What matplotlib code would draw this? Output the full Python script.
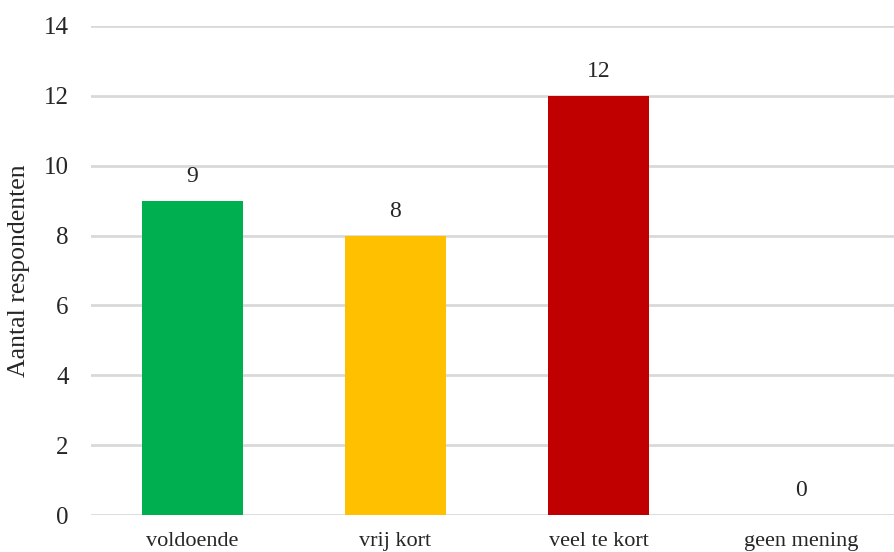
import matplotlib
matplotlib.use("Agg")
import matplotlib.pyplot as plt

categories = ["voldoende", "vrij kort", "veel te kort", "geen mening"]
counts = [9, 8, 12, 0]
colors = ["#00b050", "#ffc000", "#c00000", "#7f7f7f"]
yticks = [0, 2, 4, 6, 8, 10, 12, 14]

plt.rcParams["font.family"] = ["Liberation Serif", "DejaVu Serif"]

fig = plt.figure(figsize=(8.94, 5.52), dpi=100)
ax = fig.add_axes([91 / 894, 37 / 552, 812 / 894, 489 / 552])

x = list(range(len(categories)))
ax.bar(x, counts, width=0.5, color=colors, zorder=3)
for xi, v in zip(x, counts):
    ax.annotate(str(v), (xi, v), xytext=(0, 10), textcoords="offset points",
                ha="center", va="bottom", fontsize=17, color="#262626")

ax.set_xlim(-0.5, 3.5)
ax.set_ylim(0, 14)
ax.set_yticks(yticks)
ax.set_xticks(x)
ax.set_xticklabels(categories, fontsize=16, color="#262626")
ax.tick_params(axis="y", labelsize=18, colors="#262626", length=0, pad=16)
ax.tick_params(axis="x", length=0, pad=12)
ax.grid(axis="y", color="#d9d9d9", linewidth=2, zorder=0)
for s in ax.spines.values():
    s.set_visible(False)
ax.set_ylabel("Aantal respondenten", fontsize=18.5, color="#262626")
ax.yaxis.set_label_coords(-0.075, 0.5)

fig.savefig("out.png", dpi=100)
